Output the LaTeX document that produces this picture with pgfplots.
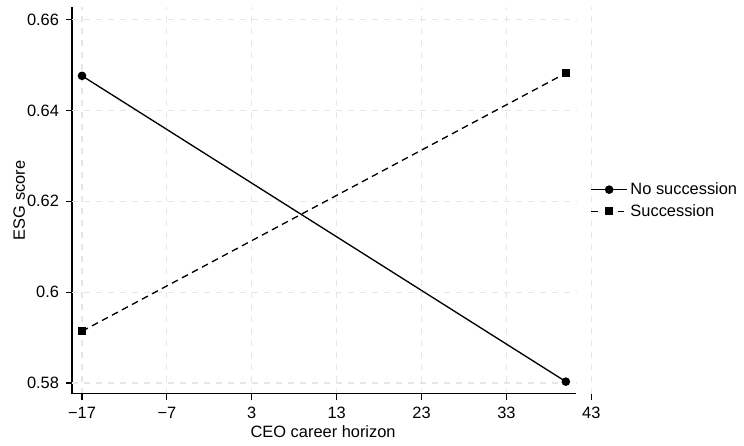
\documentclass[border=0pt]{standalone}
\usepackage{fontspec}
\setmainfont{Liberation Sans}
\usepackage{pgfplots}
\pgfplotsset{compat=1.18}
\definecolor{gridgray}{HTML}{E6E6E6}
\begin{document}
\fontsize{12.3}{14}\selectfont
\begin{tikzpicture}
\path[use as bounding box] (-54pt,-39pt) rectangle (504pt,295.5pt);
\begin{axis}[
  at={(0pt,0pt)}, anchor=south west,
  scale only axis,
  width=390.75pt, height=290.25pt,
  xmin=-18.18, xmax=43.2,
  ymin=0.57758, ymax=0.66275,
  axis x line*=bottom, axis y line*=left,
  x axis line style={draw=none},
  y axis line style={black, line width=0.8pt, -},
  xtick={-17,-7,3,13,23,33,43},
  xticklabels={−17,−7,3,13,23,33,43},
  ytick={0.58,0.6,0.62,0.64,0.66},
  yticklabels={0.58,0.6,0.62,0.64,0.66},
  tick align=outside,
  major tick length=4.5pt,
  tick style={black, line width=0.8pt},
  xticklabel style={font=\fontsize{12.3}{14}\selectfont, yshift=-1pt},
  yticklabel style={font=\fontsize{12.3}{14}\selectfont, xshift=-1pt},
  xmajorgrids=true,
  major grid style={gridgray, line width=0.9pt, dash pattern=on 4.5pt off 4.5pt},
  xlabel={CEO career horizon},
  ylabel={ESG score},
  xlabel style={font=\fontsize{12.3}{14}\selectfont, at={(axis description cs:0.482,0)}, anchor=base, yshift=-33pt},
  ylabel style={font=\fontsize{12.3}{14}\selectfont, yshift=-7pt},
  legend style={draw=none, fill=none, at={(0.987,0.5)}, anchor=west,
    font=\fontsize{12.3}{14}\selectfont, row sep=1.5pt,
    legend cell align=left},
  legend image code/.code={%
    \draw[mark repeat=2,mark phase=2,#1] plot coordinates {(0pt,0pt) (13.5pt,0pt) (27pt,0pt)};},
]
% horizontal grid lines (stop at end of x axis line)
\draw[gridgray, line width=0.9pt, dash pattern=on 4.5pt off 4.5pt] (axis cs:-18.18,0.58) -- (axis cs:41.2,0.58);
\draw[gridgray, line width=0.9pt, dash pattern=on 4.5pt off 4.5pt] (axis cs:-18.18,0.60) -- (axis cs:41.2,0.60);
\draw[gridgray, line width=0.9pt, dash pattern=on 4.5pt off 4.5pt] (axis cs:-18.18,0.62) -- (axis cs:41.2,0.62);
\draw[gridgray, line width=0.9pt, dash pattern=on 4.5pt off 4.5pt] (axis cs:-18.18,0.64) -- (axis cs:41.2,0.64);
\draw[gridgray, line width=0.9pt, dash pattern=on 4.5pt off 4.5pt] (axis cs:-18.18,0.66) -- (axis cs:41.2,0.66);
% bottom axis line
\draw[black, line width=0.8pt] (axis cs:-18.18,0.57758) -- (axis cs:41.2,0.57758);
\addplot[black, line width=1pt, mark=*, mark size=2.7pt, mark options={solid}]
  coordinates {(-17,0.6476) (40,0.5803)};
\addlegendentry{No succession}
\addplot[black, line width=1pt, dash pattern=on 5pt off 3.5pt, mark=square*, mark size=2.5pt, mark options={solid},
  legend image code/.code={%
    \draw[black, line width=1pt] (0pt,0pt) -- (7pt,0pt);
    \draw[black, line width=1pt] (20pt,0pt) -- (27pt,0pt);
    \draw[mark=square*, mark size=2.5pt, mark options={solid}] plot coordinates {(13.5pt,0pt)};}]
  coordinates {(-17,0.5914) (40,0.6482)};
\addlegendentry{Succession}
\end{axis}
\end{tikzpicture}
\end{document}
